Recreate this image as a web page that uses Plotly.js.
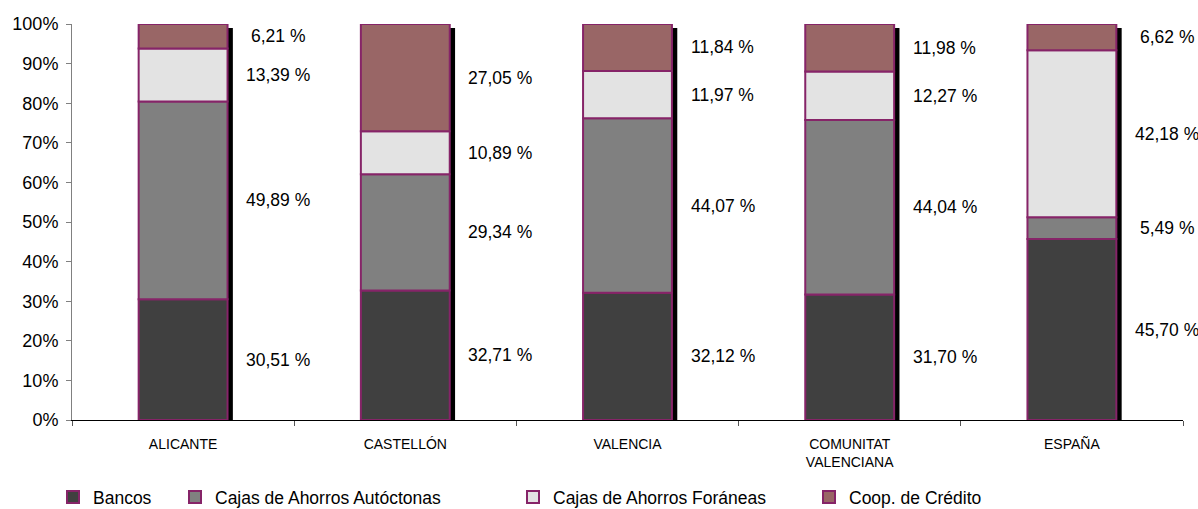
<!DOCTYPE html>
<html>
<head>
<meta charset="utf-8">
<script src="https://cdn.plot.ly/plotly-3.0.1.min.js"></script>
<style>html,body{margin:0;padding:0;background:#fff;}#chart{width:1198px;height:509px;}</style>
</head>
<body>
<div id="chart"></div>
<script>
const categories = ['ALICANTE', 'CASTELLÓN', 'VALENCIA', 'COMUNITAT<br>VALENCIANA', 'ESPAÑA'];
const seriesNames = ['Bancos', 'Cajas de Ahorros Autóctonas', 'Cajas de Ahorros Foráneas', 'Coop. de Crédito'];
const bancos      = [30.51, 32.71, 32.12, 31.70, 45.70];
const autoctonas  = [49.89, 29.34, 44.07, 44.04, 5.49];
const foraneas    = [13.39, 10.89, 11.97, 12.27, 42.18];
const coop        = [6.21, 27.05, 11.84, 11.98, 6.62];
const yTickVals   = [0, 10, 20, 30, 40, 50, 60, 70, 80, 90, 100];

const seriesValues = [bancos, autoctonas, foraneas, coop];
const colors = ['#404040', '#808080', '#e3e3e3', '#996666'];
const edge = '#862468';
const FONT = 'Liberation Sans, Arial, sans-serif';

// cumulative bases
const bases = [];
let running = categories.map(() => 0);
seriesValues.forEach(vals => {
  bases.push(running.slice());
  running = running.map((b, i) => b + vals[i]);
});
const totals = running;

const traces = [];
// shadow behind bars
traces.push({
  type: 'bar', x: categories, y: totals.map(t => t * 0.99), base: 0,
  width: 0.4, offset: -0.2 + 0.024,
  marker: {color: '#000000', line: {width: 0}},
  showlegend: false, hoverinfo: 'skip'
});
const legendX = [53, 175, 513, 809];
seriesValues.forEach((vals, k) => {
  traces.push({
    type: 'bar', name: seriesNames[k], x: categories, y: vals, base: bases[k],
    width: 0.4,
    marker: {color: colors[k], line: {color: edge, width: 2}},
    legend: k === 0 ? 'legend' : 'legend' + (k + 1)
  });
});

const annotations = [];
seriesValues.forEach((vals, k) => {
  vals.forEach((v, i) => {
    annotations.push({
      x: categories[i], y: bases[k][i] + v / 2, xref: 'x', yref: 'y',
      text: v.toFixed(2).replace('.', ',') + ' %',
      showarrow: false, xshift: 95,
      font: {family: FONT, size: 17.5, color: '#000'}
    });
  });
});

const layout = {
  width: 1198, height: 509,
  margin: {l: 72, r: 15, t: 24, b: 89},
  paper_bgcolor: '#fff', plot_bgcolor: '#fff',
  barmode: 'overlay',
  font: {family: FONT, color: '#000'},
  xaxis: {
    type: 'category', range: [-0.5, 4.5],
    showline: true, linecolor: '#000', linewidth: 1,
    ticks: 'outside', tickson: 'boundaries', ticklen: 5, tickcolor: '#555',
    tickfont: {family: FONT, size: 14, color: '#000'},
    ticklabelstandoff: 11,
    showgrid: false, zeroline: false, fixedrange: true
  },
  yaxis: {
    range: [0, 100], tickvals: yTickVals, ticktext: yTickVals.map(v => v + '%'),
    showline: true, linecolor: '#808080', linewidth: 1,
    ticks: 'outside', ticklen: 5, tickcolor: '#808080',
    tickfont: {family: FONT, size: 18, color: '#000'},
    ticklabelstandoff: 4,
    showgrid: false, zeroline: false, fixedrange: true
  },
  annotations: annotations,
  showlegend: true
};
const legendBase = {
  orientation: 'h', xref: 'container', yref: 'container',
  y: 1 - 497 / 509, yanchor: 'middle', xanchor: 'left',
  font: {family: FONT, size: 17.5, color: '#000'},
  bgcolor: 'rgba(0,0,0,0)', borderwidth: 0, itemwidth: 30
};
['legend', 'legend2', 'legend3', 'legend4'].forEach((name, k) => {
  layout[name] = Object.assign({}, legendBase, {x: legendX[k] / 1198});
});

Plotly.newPlot('chart', traces, layout, {displayModeBar: false, staticPlot: true});
</script>
</body>
</html>
